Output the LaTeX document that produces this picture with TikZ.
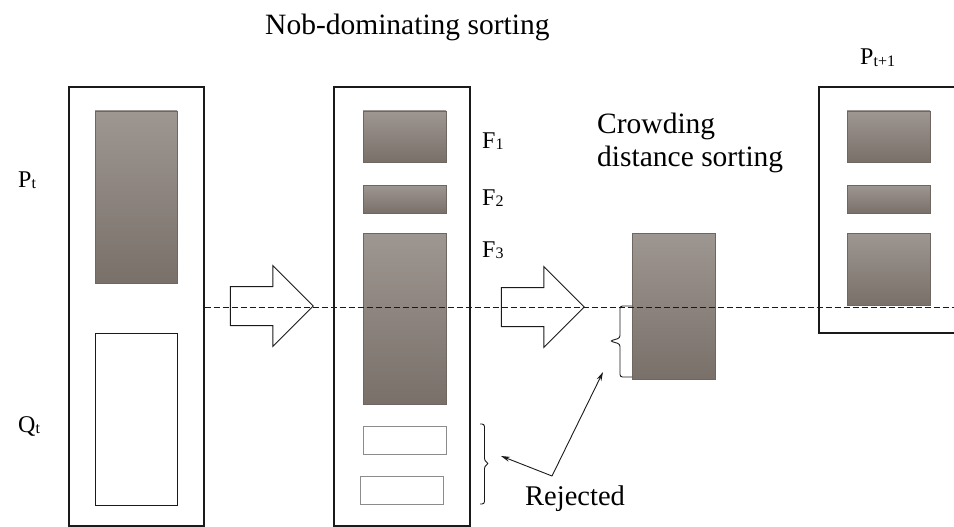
\documentclass[tikz,border=0pt]{standalone}
\usepackage{fontspec}
\setmainfont{Liberation Serif}
\usetikzlibrary{arrows.meta,positioning,shapes.arrows}
\definecolor{fronttop}{HTML}{9E9690}
\definecolor{frontbot}{HTML}{79706A}
\definecolor{frontedge}{HTML}{6E6761}
\definecolor{ink}{HTML}{1A1A1A}
\newcommand{\popsub}[2]{#1\raisebox{-1.5pt}{\fontsize{16}{16}\selectfont #2}}
\tikzset{
  pop/.style={draw=ink,line width=1.1pt,inner sep=0pt},
  front/.style={draw=frontedge,top color=fronttop,bottom color=frontbot,inner sep=0pt,minimum width=83pt},
  rej/.style={draw=#1,fill=white,line width=0.9pt,inner sep=0pt,minimum width=83pt,minimum height=28pt},
  rej/.default=black!45,
  bigarrow/.style={draw=ink,fill=white,line width=1pt,single arrow,single arrow head extend=21pt,
                   inner xsep=0pt,inner ysep=19pt,minimum width=80pt,minimum height=83pt},
  lbl/.style={anchor=base west,inner sep=0pt,font=\fontsize{24}{24}\selectfont},
  big/.style={anchor=base west,inner sep=0pt,align=left,font=\fontsize{29.5}{33}\selectfont},
  cut/.style={dash pattern=on 6pt off 3pt,line width=1pt,ink},
  rejarrow/.style={-{Stealth[length=9pt,width=5pt]},line width=0.9pt,ink},
  brk/.style={line width=0.9pt,ink,rounded corners=2.5pt},
}
\begin{document}
\begin{tikzpicture}[x=1pt,y=-1pt]
  \useasboundingbox (0,0) rectangle (954,527);
  % population P_t + Q_t
  \node[pop,minimum width=135pt,minimum height=439pt] (popL) at (136.5,306.5) {};
  \node[front,minimum width=82pt,minimum height=172pt] (pt) at (136,197) {};
  \node[rej=ink,minimum width=82pt,minimum height=172pt] (qt) at (136,419) {};
  \node[lbl] (ptlbl) at (18,187) {\popsub{P}{t}};
  \node[lbl] (qtlbl) at (18,432) {\popsub{Q}{t}};
  % fronts after sorting
  \node[pop,minimum width=136pt,minimum height=439pt] (popM) at (402,306.5) {};
  \node[front,minimum height=51pt] (f1) at (404.5,136.5) {};
  \node[front,minimum height=28pt] (f2) at (404.5,199) {};
  \node[front,minimum height=171pt] (f3) at (404.5,318.5) {};
  \node[rej] (r1) at (404.5,440) {};
  \node[rej] (r2) at (402,490) {};
  \node[lbl] (f1lbl) at (482,148) {\popsub{F}{1}};
  \node[lbl] (f2lbl) at (482,205) {\popsub{F}{2}};
  \node[lbl] (f3lbl) at (482,257) {\popsub{F}{3}};
  \node[big] (nds) at (265,35) {Nob-dominating sorting};
  % crowding distance
  \node[front,minimum height=146pt] (crowd) at (673.5,306) {};
  \node[big] (cds) at (597,166) {Crowding\\distance sorting};
  % next population
  \node[pop,minimum width=151pt,minimum height=246pt] (popN) at (894.5,210) {};
  \node[front,minimum height=51pt] (n1) at (888.5,136.5) {};
  \node[front,minimum height=28pt] (n2) at (888.5,199) {};
  \node[front,minimum height=72pt] (n3) at (888.5,269) {};
  \node[lbl] (ptnlbl) at (860,65) {\popsub{P}{t+1}};
  % block arrows
  \node[bigarrow] (arrA) at (262,306) {};
  \node[bigarrow] (arrB) at (533,307) {};
  % cut line
  \coordinate (cutend) at (954,307);
  \draw[cut] (popL.east |- cutend) -- (cutend);
  % braces
  \draw[brk] (480,424) -- (484.5,424) -- (484.5,461) -- (489,463.5) -- (484.5,466) -- (484.5,504) -- (480,504);
  \draw[brk] (632,306) -- (620,306) -- (620,338) -- (610,341) -- (620,344) -- (620,377) -- (632,377);
  % rejected
  \node[big,font=\fontsize{28.5}{28.5}\selectfont] (rejlbl) at (525,505) {Rejected};
  \coordinate (fork) at (552,476);
  \coordinate (tipA) at (501,456);
  \coordinate (tipB) at (603,372);
  \draw[rejarrow] (fork) -- (tipA);
  \draw[rejarrow] (fork) -- (tipB);
\end{tikzpicture}
\end{document}
